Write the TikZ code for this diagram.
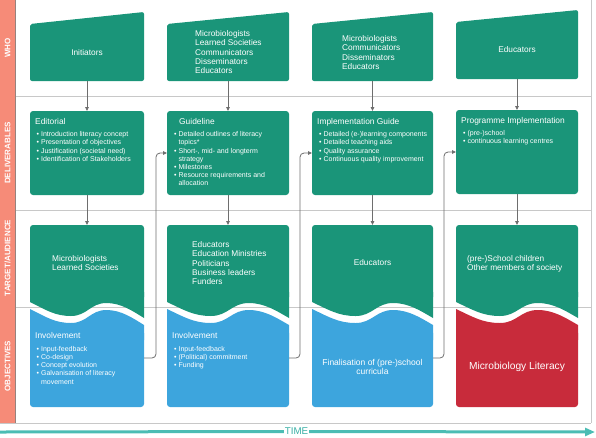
\documentclass[tikz,border=0pt]{standalone}
\usepackage{fontspec}
\setmainfont{Liberation Sans}
\usetikzlibrary{arrows.meta}
\definecolor{gr}{HTML}{1A9579}
\definecolor{bl}{HTML}{3DA5DD}
\definecolor{rd}{HTML}{C82B3B}
\definecolor{sal}{HTML}{F68B78}
\definecolor{tl}{HTML}{4BBDB4}
\definecolor{tltxt}{HTML}{38AFA5}
\definecolor{gridc}{HTML}{C8C8C8}
\definecolor{conc}{HTML}{6E6E6E}
\tikzset{
  hold/.style={draw=none, inner sep=0pt, outer sep=0pt},
  dbox/.style={fill=gr, rounded corners=3pt, inner sep=0pt, outer sep=0pt, minimum height=84pt},
  con/.style={draw=conc, line width=0.8pt, -{Triangle[length=4pt,width=3.6pt]}},
  gridl/.style={draw=gridc, line width=0.8pt},
  bandtxt/.style={text=white, font=\bfseries\fontsize{8}{9}\selectfont, inner sep=0pt, rotate=90},
  wtxt/.style={text=white, font=\fontsize{8.3}{9.4}\selectfont, align=left, inner sep=0pt},
  ttl/.style={text=white, font=\fontsize{8.4}{10}\selectfont, inner sep=0pt, anchor=north west},
  lst/.style={text=white, font=\fontsize{7}{8.2}\selectfont, align=left, inner sep=0pt, anchor=north west},
}
\newcommand\bu{\textbullet\ }
\newcommand\bi{\hphantom{\textbullet\ }}
\begin{document}
\begin{tikzpicture}[x=1pt,y=-1pt]
\useasboundingbox (0,0) rectangle (596,437);
% frame and band
\fill[sal] (0,0) rectangle (15,423);
\draw[gridl] (15,96) -- (591,96);
\draw[gridl] (15,210) -- (591,210);
\draw[gridl] (15,307) -- (591,307);
\draw[gridl] (0,423) -- (591,423);
\draw[gridl] (591,0) -- (591,423);
\draw[draw=gray!80!sal, line width=0.8pt] (15,0) -- (15,423);
\node[bandtxt] (bwho) at (7.5,48) {WHO};
\node[bandtxt] (bdel) at (7.5,153) {DELIVERABLES};
\node[bandtxt] (btar) at (7.5,258) {TARGET/AUDIENCE};
\node[bandtxt] (bobj) at (7.5,366) {OBJECTIVES};
% columns
\foreach \i/\l/\r/\dy/\oc in {1/30/144/0/bl, 2/167/289/0/bl, 3/312/433/0/bl, 4/456/578/-2/rd}{
  \pgfmathsetmacro\w{\r-\l}
  \pgfmathsetmacro\m{(\l+\r)/2}
  % who
  \fill[gr, rounded corners=2pt] (\l,{81+(\dy)}) -- (\l,{24+(\dy)}) -- (\r,{12+(\dy)}) -- (\r,{81+(\dy)}) -- cycle;
  \node[hold, minimum width=\w, minimum height=69] (w\i) at (\m,{46.5+(\dy)}) {};
  % deliverables
  \node[dbox, minimum width=\w] (d\i) at (\m,{153+(\dy)/2}) {};
  % target
  \fill[gr, rounded corners=3pt] (\l,225) rectangle (\r,300);
  \fill[gr] (\l,292) -- (\l,302) .. controls ({\l+0.14*\w},310) and ({\l+0.22*\w},316) .. ({\l+0.36*\w},316)
     .. controls ({\l+0.5*\w},316) and ({\l+0.53*\w},303) .. ({\l+0.67*\w},303)
     .. controls ({\l+0.8*\w},303) and ({\l+0.9*\w},311) .. (\r,318) -- (\r,292) -- cycle;
  \node[hold, minimum width=\w, minimum height=93] (t\i) at (\m,271.5) {};
  % objectives
  \fill[\oc] (\l,340) -- (\l,309) .. controls ({\l+0.14*\w},317) and ({\l+0.22*\w},323) .. ({\l+0.36*\w},323)
     .. controls ({\l+0.5*\w},323) and ({\l+0.53*\w},310) .. ({\l+0.67*\w},310)
     .. controls ({\l+0.8*\w},310) and ({\l+0.9*\w},318) .. (\r,325) -- (\r,340) -- cycle;
  \fill[\oc, rounded corners=3pt] (\l,330) rectangle (\r,407);
  \node[hold, minimum width=\w, minimum height=98] (o\i) at (\m,358) {};
  % vertical connectors
  \draw[con] (w\i) -- (d\i);
  \draw[con] (d\i) -- (t\i);
}
% feedback connectors
\draw[con, rounded corners=4pt] (o1.east) -- ++(12,0) |- (d2.west);
\draw[con, rounded corners=4pt] (o2.east) -- ++(11,0) |- (d3.west);
\draw[con, rounded corners=4pt] (o3.east) -- ++(11,0) |- (d4.west);
% WHO texts
\node[wtxt] (wt1) at (87,53) {Initiators};
\node[wtxt, anchor=north west] (wt2) at (195,30) {Microbiologists\\Learned Societies\\Communicators\\Disseminators\\Educators};
\node[wtxt, anchor=north west] (wt3) at (342,35) {Microbiologists\\Communicators\\Disseminators\\Educators};
\node[wtxt] (wt4) at (517,50) {Educators};
% deliverables texts
\node[ttl] (dh1) at (35,118) {Editorial};
\node[lst] (dl1) at (36.5,131.5) {\bu Introduction literacy concept\\\bu Presentation of objectives\\\bu Justification (societal need)\\\bu Identification of Stakeholders};
\node[ttl] (dh2) at (179,118) {Guideline};
\node[lst] (dl2) at (174,131.5) {\bu Detailed outlines of literacy\\\bi topics*\\\bu Short-, mid- and longterm\\\bi strategy\\\bu Milestones\\\bu Resource requirements and\\\bi allocation};
\node[ttl] (dh3) at (317,118) {Implementation Guide};
\node[lst] (dl3) at (319,131.5) {\bu Detailed (e-)learning components\\\bu Detailed teaching aids\\\bu Quality assurance\\\bu Continuous quality improvement};
\node[ttl] (dh4) at (461,117) {Programme Implementation};
\node[lst] (dl4) at (463,130.5) {\bu (pre-)school\\\bu continuous learning centres};
% target texts
\node[wtxt, anchor=north west] (tt1) at (52,255) {Microbiologists\\Learned Societies};
\node[wtxt, anchor=north west] (tt2) at (192,241) {Educators\\Education Ministries\\Politicians\\Business leaders\\Funders};
\node[wtxt] (tt3) at (372.5,263) {Educators};
\node[wtxt, anchor=north west] (tt4) at (467,255) {(pre-)School children\\Other members of society};
% objectives texts
\node[ttl] (oh1) at (35,332) {Involvement};
\node[lst] (ol1) at (36.5,346) {\bu Input-feedback\\\bu Co-design\\\bu Concept evolution\\\bu Galvanisation of literacy\\\bi movement};
\node[ttl] (oh2) at (172,332) {Involvement};
\node[lst] (ol2) at (174,346) {\bu Input-feedback\\\bu (Political) commitment\\\bu Funding};
\node[text=white, font=\fontsize{8.5}{9}\selectfont, align=center, inner sep=0pt] (ot3) at (372.5,366.5) {Finalisation of (pre-)school\\curricula};
\node[text=white, font=\fontsize{10.2}{12}\selectfont, inner sep=0pt] (ot4) at (517,367) {Microbiology Literacy};
% time arrow
\node[text=tltxt, font=\fontsize{9.8}{10}\selectfont, fill=white, inner sep=0.8pt] (time) at (296.5,431.5) {TIME};
\coordinate (tstart) at (0,432);
\coordinate (tend) at (595,432);
\draw[tl, line width=3pt] (tstart) -- (time.west);
\draw[tl, line width=3pt, -{Triangle[length=10pt,width=8pt]}] (time.east) -- (tend);
\end{tikzpicture}
\end{document}
